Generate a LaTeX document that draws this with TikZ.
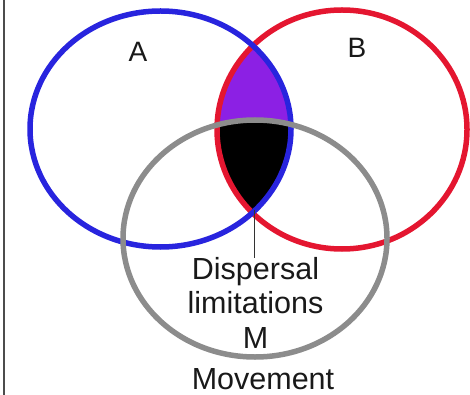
\documentclass[tikz,border=0pt]{standalone}
\usepackage{fontspec}
\setmainfont{Liberation Sans}
\definecolor{ringA}{RGB}{40,36,222}
\definecolor{ringB}{RGB}{228,22,48}
\definecolor{ringM}{RGB}{140,140,140}
\definecolor{lensAB}{RGB}{140,32,228}
\tikzset{
  ring/.style={line width=5.5pt},
  label/.style={font=\fontsize{30.5}{36}\selectfont,text=black!90,inner sep=0pt,anchor=base},
}
\begin{document}
\begin{tikzpicture}[x=1pt,y=-1pt]
\useasboundingbox (0,0) rectangle (470,395);
\draw[line width=1.5pt,black!70] (4,0)--(4,395);
% shaded overlaps
\begin{scope}
\clip (160.5,129) ellipse [x radius=130.5,y radius=118];
\fill[lensAB] (342,129.5) ellipse [x radius=125,y radius=119.5];
\clip (342,129.5) ellipse [x radius=125,y radius=119.5];
\fill[black] (255,238.5) ellipse [x radius=132,y radius=118.5];
\end{scope}
% rings
\draw[ring,ringB] (342,129.5) ellipse [x radius=125,y radius=119.5];
\draw[ring,ringA] (160.5,129) ellipse [x radius=130.5,y radius=118];
\draw[ring,ringM] (255,238.5) ellipse [x radius=132,y radius=118.5];
\node[label,font=\fontsize{28}{33}\selectfont] (A) at (138,62) {A};
\node[label,font=\fontsize{28}{33}\selectfont] (B) at (357,58) {B};
\coordinate (lensbot) at (254.5,210);
\coordinate (pointer) at (254.5,258);
\draw[line width=1.5pt,black!80] (lensbot)--(pointer);
\node[label] (dispersal) at (255.5,279) {Dispersal};
\node[label] (limits) at (255.5,313) {limitations};
\node[label] (mlabel) at (255.5,348) {M};
\node[label] (movement) at (263,389) {Movement};
\end{tikzpicture}
\end{document}
